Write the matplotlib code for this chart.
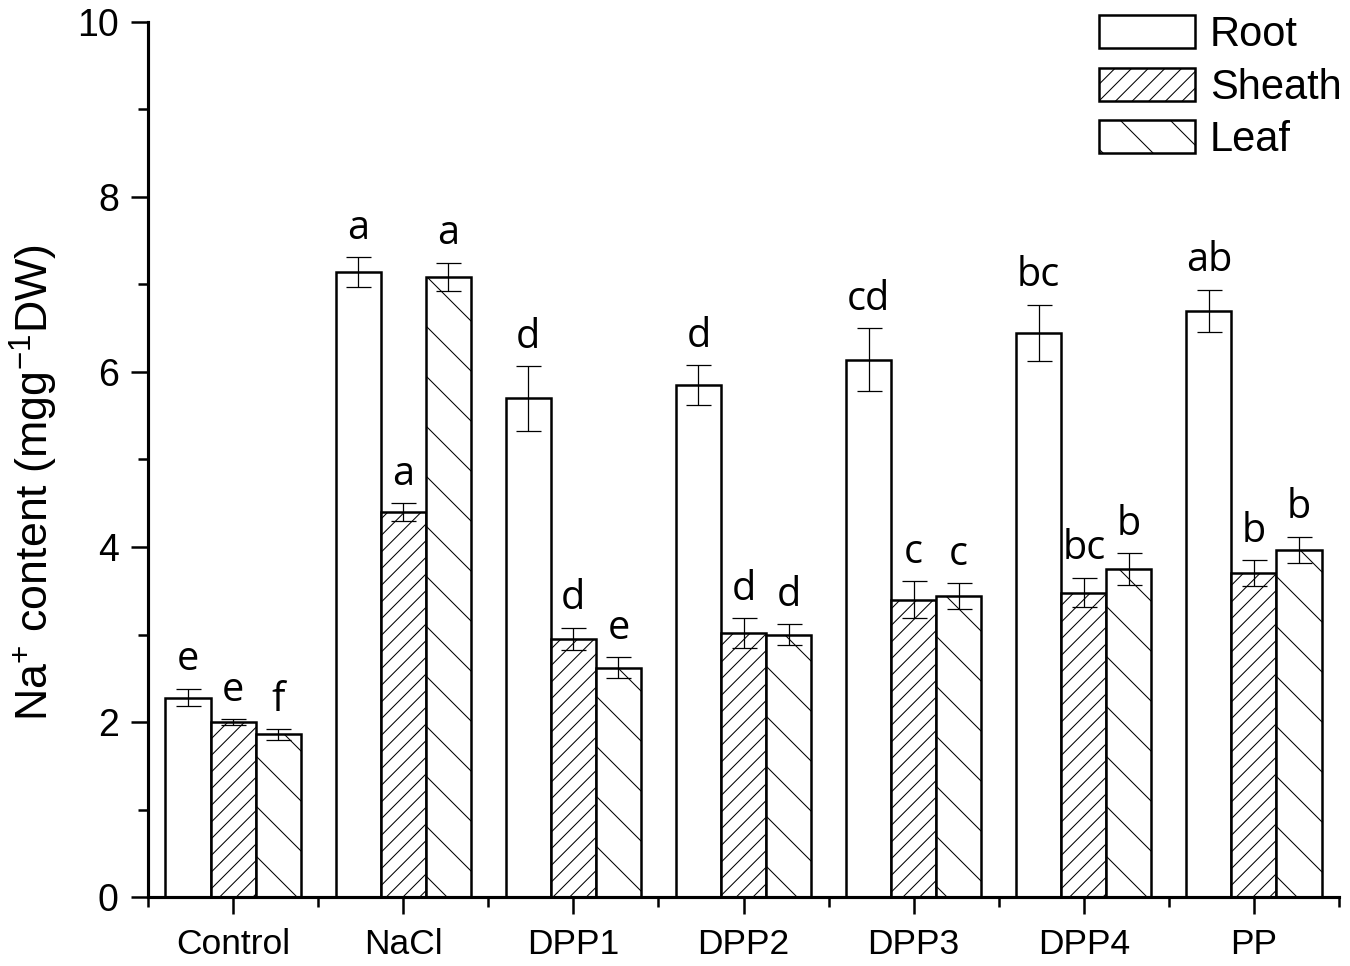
import matplotlib
matplotlib.use("Agg")
import matplotlib.pyplot as plt
import numpy as np
from matplotlib.ticker import MultipleLocator, FixedLocator

# data
groups = ["Control", "NaCl", "DPP1", "DPP2", "DPP3", "DPP4", "PP"]
root = [2.28, 7.14, 5.70, 5.85, 6.14, 6.45, 6.70]
root_err = [0.10, 0.17, 0.37, 0.23, 0.36, 0.32, 0.24]
sheath = [2.00, 4.40, 2.95, 3.02, 3.40, 3.48, 3.70]
sheath_err = [0.03, 0.10, 0.13, 0.17, 0.21, 0.17, 0.15]
leaf = [1.86, 7.09, 2.62, 3.00, 3.44, 3.75, 3.97]
leaf_err = [0.06, 0.16, 0.12, 0.12, 0.15, 0.18, 0.15]
root_letters = ["e", "a", "d", "d", "cd", "bc", "ab"]
sheath_letters = ["e", "a", "d", "d", "c", "bc", "b"]
leaf_letters = ["f", "a", "e", "d", "c", "b", "b"]

plt.rcParams['font.family'] = ['Liberation Sans', 'DejaVu Sans']
plt.rcParams['mathtext.default'] = 'regular'
plt.rcParams['hatch.linewidth'] = 0.5

fig = plt.figure(figsize=(9.0, 6.44), dpi=150)
ax = fig.add_axes([148/1350, 1 - 897/966, (1339 - 148)/1350, (897 - 22)/966])

x = np.arange(len(groups))
w = 0.265
series = [
    ("Root", root, root_err, root_letters, "", -w),
    ("Sheath", sheath, sheath_err, sheath_letters, "///", 0),
    ("Leaf", leaf, leaf_err, leaf_letters, "\\", w),
]
for name, vals, errs, letters, hatch, off in series:
    ax.bar(x + off, vals, w, color="white", edgecolor="black",
           linewidth=1.2, hatch=hatch, label=name, zorder=2)
    ax.errorbar(x + off, vals, yerr=errs, fmt="none", ecolor="black",
                elinewidth=0.6, capsize=6, capthick=0.6, zorder=3)
    for xi, v, e, lt in zip(x + off, vals, errs, letters):
        ax.annotate(lt, (xi, v + e), xytext=(0, 4), textcoords="offset points",
                    ha="center", va="bottom", fontsize=19, family=["Open Sans", "DejaVu Sans"])

ax.set_xlim(-0.5, 6.5)
ax.set_ylim(0, 10)
ax.set_xticks(x)
ax.set_xticklabels(groups, fontsize=17)
ax.xaxis.set_minor_locator(FixedLocator(np.arange(-0.5, 7.0, 1.0)))
ax.yaxis.set_major_locator(MultipleLocator(2))
ax.yaxis.set_minor_locator(MultipleLocator(1))
ax.tick_params(axis="y", labelsize=18, pad=6)
ax.tick_params(which="major", direction="out", length=8, width=1.2)
ax.tick_params(which="minor", direction="out", length=5, width=1.2)
ax.tick_params(axis="x", which="major", pad=7)

for s in ["top", "right"]:
    ax.spines[s].set_visible(False)
for s in ["left", "bottom"]:
    ax.spines[s].set_linewidth(1.5)

ax.set_ylabel("Na$^{+}$ content (mgg$^{-1}$DW)", fontsize=21.5)
ax.yaxis.set_label_coords(-0.074, 0.474)

leg = ax.legend(loc="upper left", bbox_to_anchor=(1099/1350, 1 - 15/966),
                bbox_transform=fig.transFigure, frameon=False, fontsize=20,
                handlelength=2.3, handleheight=0.85, handletextpad=0.36,
                labelspacing=0.3, borderpad=0, borderaxespad=0)
for p in leg.get_patches():
    p.set_linewidth(1.2)

fig.savefig("out.png", dpi=150)
